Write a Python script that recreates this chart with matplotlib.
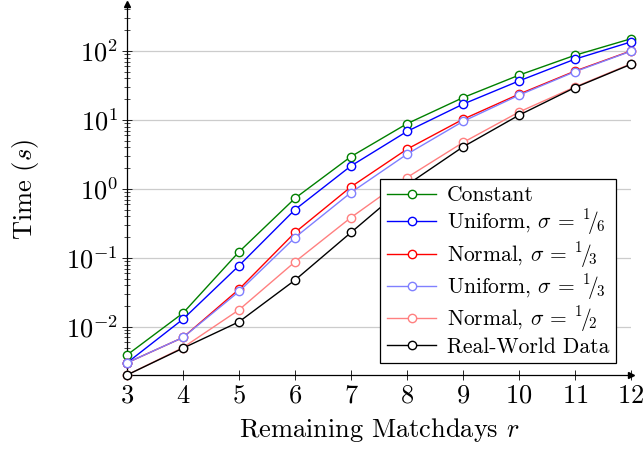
import matplotlib
matplotlib.use('Agg')
import matplotlib.pyplot as plt
from matplotlib.ticker import LogLocator, NullFormatter

# remaining matchdays r
r = [3, 4, 5, 6, 7, 8, 9, 10, 11, 12]

# runtime in seconds
constant = [0.0039, 0.0158, 0.122, 0.73, 2.94, 8.8, 21.0, 44.5, 86.5, 150]
uniform_16 = [0.0030, 0.0129, 0.077, 0.50, 2.15, 6.8, 16.9, 36.7, 76, 135]
normal_13 = [0.0030, 0.0070, 0.035, 0.233, 1.07, 3.76, 10.2, 23.6, 51, 100]
uniform_13 = [0.0030, 0.0070, 0.0325, 0.197, 0.885, 3.18, 9.5, 22.8, 50, 99]
normal_12 = [0.0020, 0.0050, 0.0176, 0.0875, 0.384, 1.46, 4.7, 13.0, 30, 65]
real_world = [0.0020, 0.0049, 0.0118, 0.0475, 0.233, 1.14, 4.06, 11.7, 29.4, 64]

labels = ['Constant',
          r'Uniform, $\sigma$ = $^1\!/\!_6$',
          r'Normal, $\sigma$ = $^1\!/\!_3$',
          r'Uniform, $\sigma$ = $^1\!/\!_3$',
          r'Normal, $\sigma$ = $^1\!/\!_2$',
          'Real-World Data']
colors = ['#008000', '#0000ff', '#ff0000', '#8080ff', '#ff8080', '#000000']
series = [constant, uniform_16, normal_13, uniform_13, normal_12, real_world]

plt.rcParams['font.family'] = 'serif'
plt.rcParams['font.serif'] = ['cmr10']
plt.rcParams['mathtext.fontset'] = 'cm'
plt.rcParams['axes.formatter.use_mathtext'] = True
plt.rcParams['axes.unicode_minus'] = True

fig = plt.figure(figsize=(6.43, 4.55), dpi=100)
ax = fig.add_axes([127 / 643, 1 - 375 / 455, 504 / 643, 371 / 455])

for ys, lab, col in zip(series, labels, colors):
    ax.plot(r, ys, color=col, lw=1.0, marker='o', markersize=6,
            markerfacecolor='white', markeredgecolor=col, markeredgewidth=1.0,
            label=lab, clip_on=False, zorder=3)

ax.set_yscale('log')
ax.set_xlim(3, 12)
ax.set_ylim(0.002, 10 ** 2.68)
ax.set_xticks(r)
ax.yaxis.set_major_locator(LogLocator(base=10, numticks=20))
ax.yaxis.set_minor_locator(LogLocator(base=10, subs=range(2, 10), numticks=20))
ax.yaxis.set_minor_formatter(NullFormatter())
ax.grid(axis='y', which='major', color='#cccccc', lw=0.9)
ax.set_axisbelow(True)

for s in ['top', 'right']:
    ax.spines[s].set_visible(False)
for s in ['left', 'bottom']:
    ax.spines[s].set_linewidth(0.9)
ax.tick_params(which='major', direction='inout', length=7, width=0.6, labelsize=19)
ax.tick_params(which='minor', direction='inout', length=4, width=0.5)
ax.tick_params(axis='x', pad=3)
ax.tick_params(axis='y', pad=3)

# arrow heads on the axes
ax.plot(1, 0, '>k', ms=4, transform=ax.transAxes, clip_on=False)
ax.plot(0, 1, '^k', ms=4, transform=ax.transAxes, clip_on=False)

ax.set_xlabel(r'Remaining Matchdays $r$', fontsize=19, labelpad=6)
ax.set_ylabel(r'Time ($s$)', fontsize=19, labelpad=18)

leg = ax.legend(loc='lower right', bbox_to_anchor=(616 / 643, 1 - 363 / 455),
                bbox_transform=fig.transFigure, fontsize=15.5, frameon=True,
                fancybox=False, edgecolor='black', framealpha=1,
                handlelength=2.3, handletextpad=0.5, labelspacing=0.12,
                borderpad=0.3, borderaxespad=0)
leg.get_frame().set_linewidth(0.9)
leg.set_zorder(5)

plt.savefig('out.png', dpi=100)
